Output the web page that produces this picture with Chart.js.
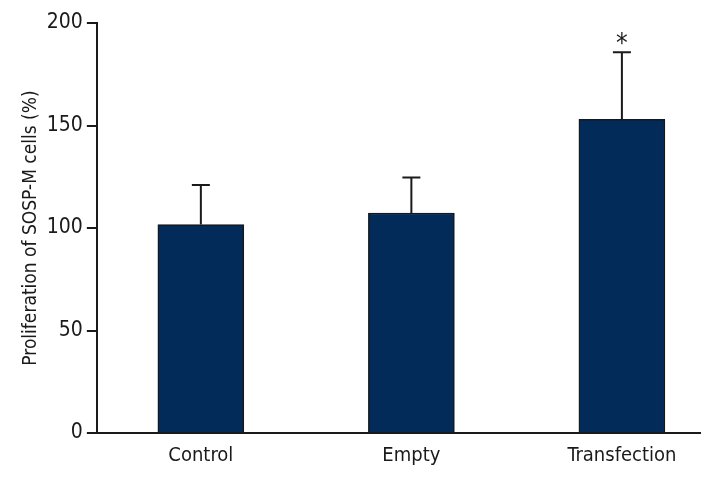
<!DOCTYPE html>
<html>
<head>
<meta charset="utf-8">
<script src="https://cdn.jsdelivr.net/npm/chart.js@4"></script>
<style>
  html, body { margin: 0; padding: 0; background: #ffffff; }
  #wrap { width: 720px; height: 480px; }
</style>
</head>
<body>
<div id="wrap"><canvas id="prolifChart" width="720" height="480"></canvas></div>
<script>
// Data
const categories = ['Control', 'Empty', 'Transfection'];
const means = [101.7, 107.3, 153.0];
const sdUpper = [19.3, 17.3, 32.7];
const significance = ['', '', '*'];
const yTicks = [0, 50, 100, 150, 200];

const FONT = "'DejaVu Sans Condensed', 'Liberation Sans Narrow', sans-serif";
const INK = '#1a1a1a';

// Upward-only error bars plus significance marks
const errorBars = {
  id: 'errorBars',
  afterDatasetsDraw(chart) {
    const { ctx, scales } = chart;
    const meta = chart.getDatasetMeta(0);
    ctx.save();
    ctx.strokeStyle = INK;
    ctx.lineWidth = 2;
    meta.data.forEach((bar, i) => {
      const yTop = scales.y.getPixelForValue(means[i] + sdUpper[i]);
      ctx.beginPath();
      ctx.moveTo(bar.x, bar.y);
      ctx.lineTo(bar.x, yTop);
      ctx.moveTo(bar.x - 9, yTop);
      ctx.lineTo(bar.x + 9, yTop);
      ctx.stroke();
      if (significance[i]) {
        ctx.fillStyle = INK;
        ctx.font = '26px ' + FONT;
        ctx.textAlign = 'center';
        ctx.textBaseline = 'top';
        ctx.fillText(significance[i], bar.x, yTop - 20);
      }
    });
    ctx.restore();
  }
};

function initChart() {
  const ctx = document.getElementById('prolifChart');

  new Chart(ctx, {
    type: 'bar',
    data: {
      datasets: [{
        data: means.map((v, i) => ({ x: i, y: v })),
        backgroundColor: '#022b5a',
        borderColor: '#15171c',
        borderWidth: 1.5,
        barThickness: 86
      }]
    },
    options: {
      responsive: false,
      animation: false,
      layout: {
        padding: { top: 23, right: 20, left: 20, bottom: 9 }
      },
      plugins: {
        legend: { display: false },
        tooltip: { enabled: false }
      },
      scales: {
        x: {
          type: 'linear',
          offset: false,
          min: -0.494,
          max: 2.371,
          afterBuildTicks: (scale) => {
            scale.ticks = categories.map((c, i) => ({ value: i }));
          },
          grid: { display: false },
          border: { color: INK, width: 2 },
          ticks: {
            color: INK,
            padding: 3,
            font: { family: FONT, size: 20 },
            callback: (v) => categories[v]
          }
        },
        y: {
          min: 0,
          max: 200,
          afterBuildTicks: (scale) => {
            scale.ticks = yTicks.map(v => ({ value: v }));
          },
          grid: {
            drawOnChartArea: false,
            color: INK,
            lineWidth: 2,
            tickLength: 10
          },
          border: { color: INK, width: 2 },
          ticks: {
            color: INK,
            padding: 4,
            font: { family: FONT, size: 21 }
          },
          title: {
            display: true,
            text: 'Proliferation of SOSP-M cells (%)',
            color: INK,
            font: { family: FONT, size: 19 },
            padding: { top: 0, bottom: 0 }
          }
        }
      }
    },
    plugins: [errorBars]
  });
}

initChart();
</script>
</body>
</html>
